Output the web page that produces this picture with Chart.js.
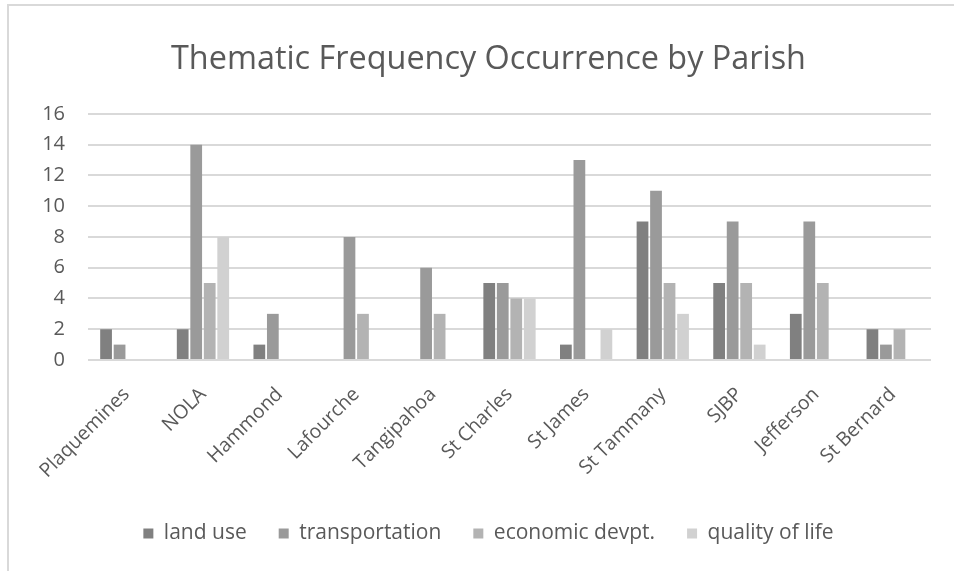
<!DOCTYPE html>
<html>
<head>
<meta charset="utf-8">
<script src="https://cdn.jsdelivr.net/npm/chart.js@4.4.1/dist/chart.umd.min.js"></script>
<style>
  html, body { margin: 0; padding: 0; background: #ffffff; }
  #wrap { position: relative; width: 954px; height: 571px; overflow: hidden; }
  #frame { position: absolute; left: 7px; top: 4px; width: 1000px; height: 1000px;
           border-top: 2px solid #d9d9d9; border-left: 2px solid #d9d9d9; box-sizing: border-box; }
  canvas { position: absolute; left: 0; top: 0; }
</style>
</head>
<body>
<div id="wrap">
  <div id="frame"></div>
  <canvas id="c" width="954" height="571"></canvas>
</div>
<script>
const categories = ["Plaquemines", "NOLA", "Hammond", "Lafourche", "Tangipahoa", "St Charles", "St James", "St Tammany", "SJBP", "Jefferson", "St Bernard"];
const landUse        = [2, 2, 1, 0, 0, 5, 1, 9, 5, 3, 2];
const transportation = [1, 14, 3, 8, 6, 5, 13, 11, 9, 9, 1];
const economicDevpt  = [0, 5, 0, 3, 3, 4, 0, 5, 5, 5, 2];
const qualityOfLife  = [0, 8, 0, 0, 0, 4, 2, 3, 1, 0, 0];
const seriesNames = ["land use", "transportation", "economic devpt.", "quality of life"];
const yTicks = [0, 2, 4, 6, 8, 10, 12, 14, 16];

const colors = ["#808080", "#9a9a9a", "#b3b3b3", "#d1d1d1"];
const FONT = "'Open Sans', 'Liberation Sans', sans-serif";
const TXT = "#595959";

const seriesData = [landUse, transportation, economicDevpt, qualityOfLife];
const datasets = seriesNames.map((name, i) => ({
  label: name,
  data: seriesData[i],
  backgroundColor: colors[i],
  borderWidth: 0,
  categoryPercentage: 0.705,
  barPercentage: 0.87
}));

new Chart(document.getElementById('c'), {
  type: 'bar',
  data: { labels: categories, datasets },
  options: {
    responsive: false,
    animation: false,
    layout: { padding: { left: 0, right: -23, top: 0, bottom: 17 } },
    plugins: {
      title: {
        display: true,
        text: "Thematic Frequency Occurrence by Parish",
        color: TXT,
        font: { family: FONT, size: 32.4, weight: 'normal' },
        padding: { top: 40, bottom: 35 }
      },
      legend: {
        display: true,
        position: 'bottom',
        labels: {
          color: TXT,
          font: { family: FONT, size: 21 },
          boxWidth: 10,
          boxHeight: 10,
          padding: 32
        }
      },
      tooltip: { enabled: false }
    },
    scales: {
      x: {
        afterFit: (s) => { s.height = 131; },
        grid: { display: false },
        border: { display: false },
        ticks: {
          color: TXT,
          font: { family: FONT, size: 19.5 },
          maxRotation: 45,
          minRotation: 45,
          padding: 15,
          autoSkip: false
        }
      },
      y: {
        min: 0,
        max: 16,
        afterBuildTicks: (s) => { s.ticks = yTicks.map(v => ({ value: v })); },
        afterFit: (s) => { s.width = 88; },
        grid: { color: "#d9d9d9", lineWidth: 2, drawTicks: false },
        border: { display: false },
        ticks: {
          color: TXT,
          font: { family: FONT, size: 20 },
          padding: 23
        }
      },
      yRight: {
        position: 'right',
        min: 0,
        max: 1,
        afterFit: (s) => { s.width = 46; },
        grid: { display: false, drawTicks: false },
        border: { display: false },
        ticks: { display: false }
      }
    }
  }
});
</script>
</body>
</html>
